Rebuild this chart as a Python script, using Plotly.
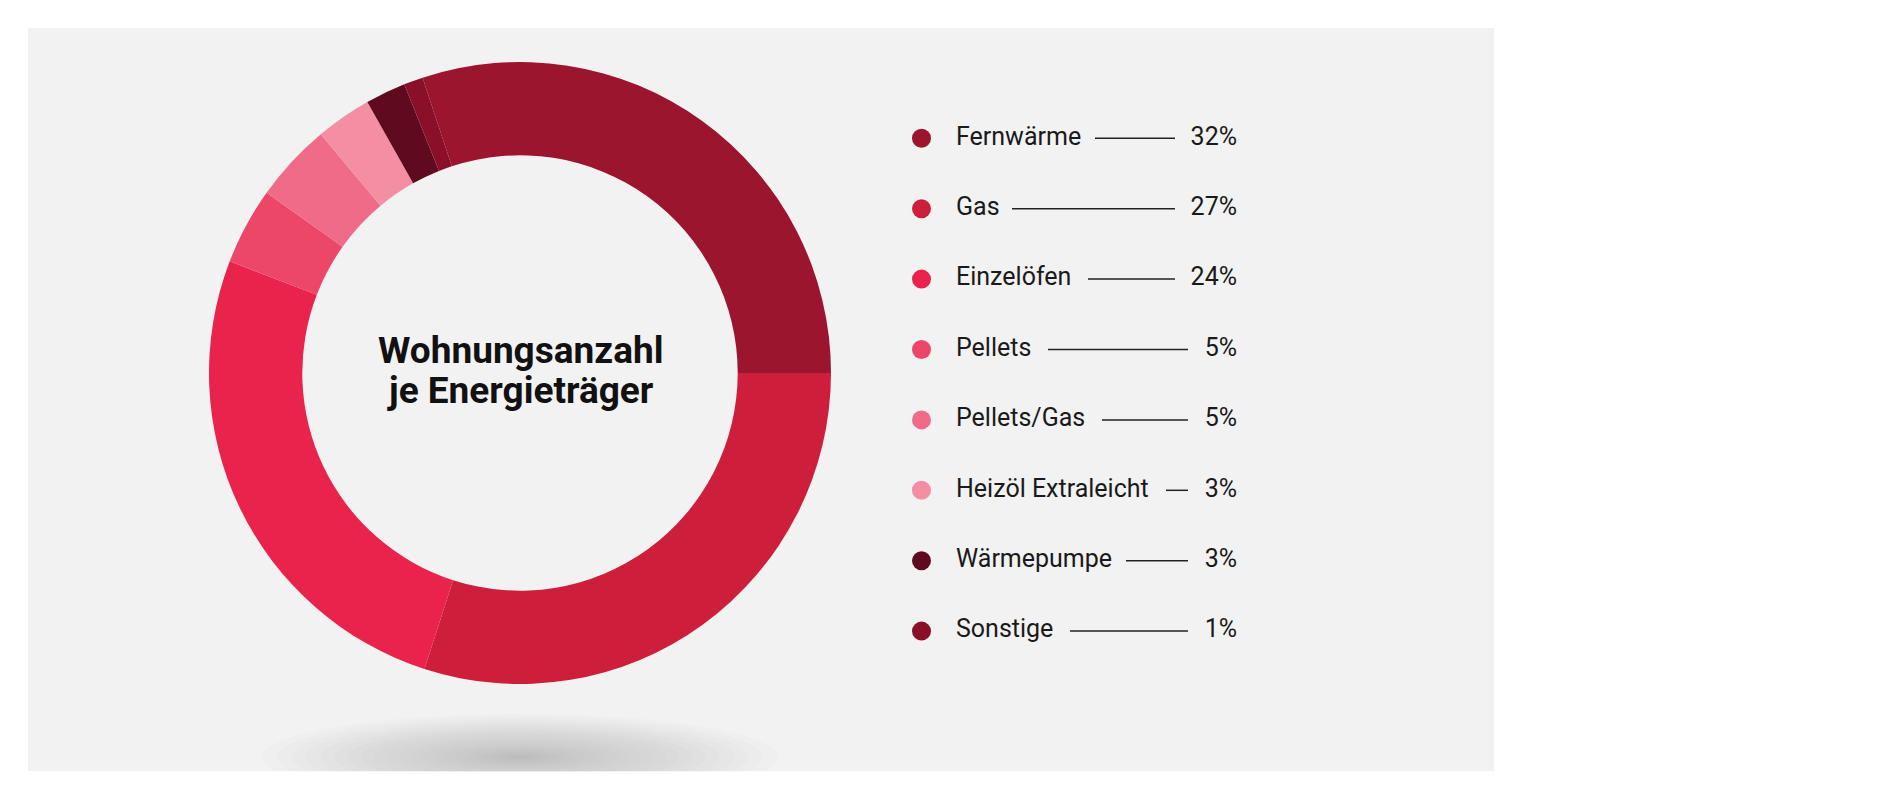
import plotly.graph_objects as go

# ---------------- data ----------------
categories = ["Fernwärme", "Gas", "Einzelöfen", "Pellets", "Pellets/Gas",
              "Heizöl Extraleicht", "Wärmepumpe", "Sonstige"]
slice_share = [30.1, 30.0, 25.9, 4.0, 4.1, 2.9, 2.1, 1.0]
# percentages printed in the legend
legend_pct = [32, 27, 24, 5, 5, 3, 3, 1]
colors = ["#9C152F", "#CD1E3C", "#E9234C", "#EC4669",
          "#EF6B88", "#F48FA3", "#5F0A1F", "#8A1029"]
title_lines = ["Wohnungsanzahl", "je Energieträger"]

# ---------------- layout constants ----------------
W, H = 1900, 800
CX, CY, R_OUT = 520, 373, 311
HOLE = 0.70
FONT = "Roboto"
TEXT_COLOR = "#1a1a1a"

ROW0, ROW_STEP = 138.3, 70.4
DOT_X, LABEL_X, PCT_RIGHT = 921.5, 956, 1237
LEADER_START = [1095, 1012, 1088, 1048, 1102, 1166, 1126, 1070]
LEADER_END = [1175, 1175, 1175, 1188, 1188, 1188, 1188, 1188]

n = len(categories)
rows = [ROW0 + i * ROW_STEP for i in range(n)]

fig = go.Figure()

rotation = 90 - 360 * slice_share[0] / sum(slice_share)
fig.add_trace(go.Pie(
    labels=categories, values=slice_share,
    marker=dict(colors=colors, line=dict(width=0)),
    hole=HOLE, sort=False, direction="clockwise", rotation=rotation,
    textinfo="none", hoverinfo="label+percent", showlegend=False,
    domain=dict(x=[(CX - R_OUT) / W, (CX + R_OUT) / W],
                y=[1 - (CY + R_OUT) / H, 1 - (CY - R_OUT) / H]),
))

# legend dots
fig.add_trace(go.Scatter(
    x=[DOT_X] * n, y=rows, mode="markers",
    marker=dict(size=19, color=colors, line=dict(width=0)),
    hoverinfo="skip", showlegend=False,
))
# legend labels
fig.add_trace(go.Scatter(
    x=[LABEL_X] * n, y=rows, mode="text", text=categories,
    textposition="middle right",
    textfont=dict(family=FONT, size=25, color=TEXT_COLOR),
    hoverinfo="skip", showlegend=False,
))
# percentages
fig.add_trace(go.Scatter(
    x=[PCT_RIGHT] * n, y=rows, mode="text",
    text=[f"{p}%" for p in legend_pct],
    textposition="middle left",
    textfont=dict(family=FONT, size=25, color=TEXT_COLOR),
    hoverinfo="skip", showlegend=False,
))
# leader lines
lx, ly = [], []
for i in range(n):
    lx += [LEADER_START[i], LEADER_END[i], None]
    ly += [rows[i], rows[i], None]
fig.add_trace(go.Scatter(
    x=lx, y=ly, mode="lines", line=dict(color="#222222", width=1.5),
    hoverinfo="skip", showlegend=False,
))

shapes = [dict(type="rect", xref="x", yref="y", x0=28, x1=1494, y0=28, y1=771,
               fillcolor="#F2F2F2", line=dict(width=0), layer="below")]
# soft drop shadow under the ring (stacked translucent ellipses)
N = 24
for k in range(N):
    f = (1 - k / N) ** 1.4
    rx, ry = 258 * f, 43 * f
    shapes.append(dict(type="circle", xref="x", yref="y",
                       x0=CX - rx, x1=CX + rx, y0=757 - ry, y1=757 + ry,
                       fillcolor="#868d98", opacity=0.028,
                       line=dict(width=0), layer="below"))
shapes.append(dict(type="rect", xref="x", yref="y", x0=0, x1=W, y0=771.5, y1=H + 5,
                   fillcolor="#FFFFFF", line=dict(width=0), layer="below"))

annotations = []
for j, t in enumerate(title_lines):
    annotations.append(dict(
        x=CX, y=350 + j * 40, xref="x", yref="y", text=f"<b>{t}</b>",
        showarrow=False, xanchor="center", yanchor="middle",
        font=dict(family=FONT, size=37, color="#111111"),
    ))

fig.update_layout(
    width=W, height=H, margin=dict(l=0, r=0, t=0, b=0),
    paper_bgcolor="#FFFFFF", plot_bgcolor="rgba(0,0,0,0)",
    xaxis=dict(range=[0, W], visible=False, domain=[0, 1], fixedrange=True),
    yaxis=dict(range=[H, 0], visible=False, domain=[0, 1], fixedrange=True),
    shapes=shapes, annotations=annotations, showlegend=False,
)

fig.write_html("out.html", config={"displayModeBar": False},
               post_script="document.body.style.margin='0';document.body.style.overflow='hidden';")
